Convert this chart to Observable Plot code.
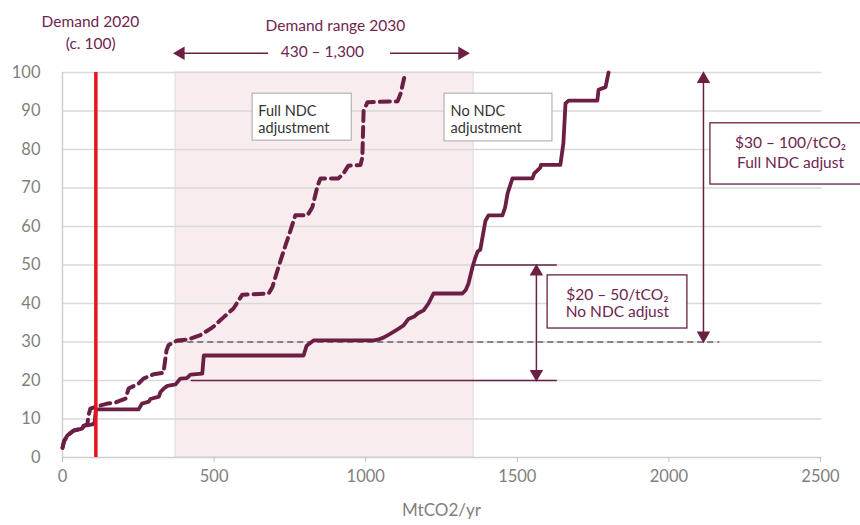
<!DOCTYPE html>
<html>
<head>
<meta charset="utf-8">
<script src="https://cdn.jsdelivr.net/npm/d3@7"></script>
<script src="https://cdn.jsdelivr.net/npm/@observablehq/plot@0.6"></script>
<style>
  html, body { margin: 0; padding: 0; background: #fff; }
  #chart { width: 860px; height: 525px; }
</style>
</head>
<body>
<div id="chart"></div>
<script>
// ---- data ----
const noNdcX = [0,5,16,37,65,70,99,106,110,251,262,285,290,318,323,334,346,373,389,410,422,461,466,795,805,828,1026,1040,1060,1082,1105,1125,1141,1160,1171,1191,1207,1224,1319,1330,1339,1352,1360,1369,1378,1385,1395,1405,1451,1460,1468,1484,1550,1556,1576,1578,1642,1652,1659,1669,1764,1768,1791,1801];
const noNdcY = [2.5,4.2,5.7,7,7.5,8.2,8.6,9,12.5,12.5,14,14.5,15.2,15.8,17,17.9,18.6,19,20.5,20.6,21.5,21.8,26.5,26.5,29,30.4,30.4,30.6,31.2,32.2,33.3,34.3,36,36.6,37.4,38.2,40,42.6,42.6,43.5,45.2,49.4,51.5,53.5,54,57.1,61.5,62.9,62.9,65,68.6,72.5,72.5,73.8,75.3,76,76,81.6,92,92.7,92.7,95.5,96.2,100];

const fullNdcX = [0,5,16,37,65,70,82,86,92,110,148,175,208,218,251,267,300,333,343,350,379,412,455,495,531,564,593,680,692,712,735,752,768,808,824,841,851,910,927,943,983,989,993,1006,1105,1115,1131];
const fullNdcY = [2.5,4.2,5.7,7,7.5,8.2,8.6,11,12.7,13.2,14,14.3,15.3,17.9,19.2,20.5,21.6,22,27.8,29.2,30.4,30.6,31.8,33.8,36.4,38.7,42.3,42.6,44.2,49.4,55,59,62.9,62.9,65,70.5,72.5,72.5,73.8,75.8,76,78,90,92.3,92.5,94.5,100];

const xTicks = [0, 500, 1000, 1500, 2000, 2500];
const yTicks = [0, 10, 20, 30, 40, 50, 60, 70, 80, 90, 100];
const demand2020 = 110;
const demandRange = [373, 1356];
const priceNoNdc = [20, 50];
const priceFullNdc = [30, 100];

const noNdc = noNdcX.map((x, i) => ({x, y: noNdcY[i]}));
const fullNdc = fullNdcX.map((x, i) => ({x, y: fullNdcY[i]}));

const maroon = "#6b1f45";
const txt = "#6e2550";
const gray = "#7f7f7f";

// annotation boxes (data units)
const boxes = [
  {x1: 627, x2: 954, y1: 82.3, y2: 94.5},
  {x1: 1260, x2: 1616, y1: 82.1, y2: 94.5},
  {x1: 2137, x2: 2680, y1: 70.9, y2: 86.8},
  {x1: 1600, x2: 2061, y1: 33.5, y2: 47.3}
];
const boxTextLeft = [
  {x: 646, y: 90.0, t: "Full NDC"},
  {x: 646, y: 85.6, t: "adjustment"},
  {x: 1280, y: 90.0, t: "No NDC"},
  {x: 1280, y: 85.6, t: "adjustment"}
];
const boxTextCenter = [
  {x: 2401, y: 81.6, t: "$30 – 100/tCO₂"},
  {x: 2401, y: 76.4, t: "Full NDC adjust"},
  {x: 1830, y: 42.3, t: "$20 – 50/tCO₂"},
  {x: 1830, y: 37.7, t: "No NDC adjust"}
];
const topText = [
  {x: 92, y: 113, t: "Demand 2020"},
  {x: 93, y: 107.3, t: "(c. 100)"},
  {x: 900, y: 112, t: "Demand range 2030"},
  {x: 857, y: 105.2, t: "430 – 1,300"}
];

const chart = Plot.plot({
  width: 860,
  height: 525,
  marginTop: 72,
  marginBottom: 68,
  marginLeft: 62,
  marginRight: 40,
  style: {fontFamily: "Lato, 'Open Sans', sans-serif", background: "#fff", overflow: "visible"},
  x: {domain: [0, 2500]},
  y: {domain: [0, 100]},
  marks: [
    // shaded demand range
    Plot.rect([demandRange], {x1: d => d[0], x2: d => d[1], y1: 0, y2: 100, fill: "#f8ecee", stroke: "#e2d6d8", strokeWidth: 1}),
    // gridlines
    Plot.ruleY(yTicks.filter(d => d > 0), {stroke: "#d9d9d9", strokeWidth: 1.3, x1: 0, x2: 2505}),
    // axes lines
    Plot.ruleY([0], {stroke: "#cfcfcf", strokeWidth: 1.5, x1: 0, x2: 2505}),
    Plot.ruleX([0], {stroke: "#cfcfcf", strokeWidth: 1.5, y1: 0, y2: 100}),
    Plot.axisY({ticks: yTicks, tickSize: 0, tickPadding: 22, fontSize: 16.5, color: gray, label: null}),
    Plot.axisX({ticks: xTicks, tickFormat: d => String(d), tickSize: 5, tickPadding: 8, fontSize: 16.5, color: gray, stroke: "#bfbfbf", label: null}),
    Plot.text(["MtCO2/yr"], {frameAnchor: "bottom", dy: 58, fontSize: 17, fill: gray}),
    // dashed reference at $30
    Plot.ruleY([priceFullNdc[0]], {x1: 380, x2: 2168, stroke: "#3a1a2c", strokeWidth: 1.2, strokeDasharray: "6,4"}),
    // lines at $20 and $50
    Plot.ruleY([priceNoNdc[1]], {x1: 1356, x2: 1632, stroke: maroon, strokeWidth: 1.4}),
    Plot.ruleY([priceNoNdc[0]], {x1: 425, x2: 1632, stroke: maroon, strokeWidth: 1.4}),
    // curves
    Plot.line(fullNdc, {x: "x", y: "y", stroke: maroon, strokeWidth: 4, strokeDasharray: "10,6"}),
    Plot.line(noNdc, {x: "x", y: "y", stroke: maroon, strokeWidth: 3.8, strokeLinejoin: "round"}),
    // demand 2020
    Plot.ruleX([demand2020], {y1: 0, y2: 100, stroke: "#e8141b", strokeWidth: 3.5}),
    // vertical double arrows
    Plot.ruleX([1563], {y1: 21.5, y2: 48.5, stroke: maroon, strokeWidth: 1.5}),
    Plot.ruleX([2114], {y1: 31.5, y2: 98.5, stroke: maroon, strokeWidth: 1.5}),
    Plot.dot([{x: 1563, y: 48.3}, {x: 2114, y: 98.3}], {x: "x", y: "y", symbol: "triangle", r: 5, fill: maroon, stroke: null}),
    Plot.dot([{x: 1563, y: 21.7}, {x: 2114, y: 31.7}], {x: "x", y: "y", symbol: "triangle", r: 5, rotate: 180, fill: maroon, stroke: null}),
    // demand range horizontal arrows (above the frame)
    Plot.ruleY([105], {x1: 400, x2: 680, stroke: maroon, strokeWidth: 1.5}),
    Plot.ruleY([105], {x1: 1082, x2: 1310, stroke: maroon, strokeWidth: 1.5}),
    Plot.dot([{x: 390, y: 105}], {x: "x", y: "y", symbol: "triangle", r: 5, rotate: -90, fill: maroon, stroke: null}),
    Plot.dot([{x: 1318, y: 105}], {x: "x", y: "y", symbol: "triangle", r: 5, rotate: 90, fill: maroon, stroke: null}),
    // boxes
    Plot.rect(boxes.slice(0, 2), {x1: "x1", x2: "x2", y1: "y1", y2: "y2", fill: "#fff", stroke: "#a6a6a6", strokeWidth: 1}),
    Plot.rect(boxes.slice(2), {x1: "x1", x2: "x2", y1: "y1", y2: "y2", fill: "#fff", stroke: maroon, strokeWidth: 1.3}),
    Plot.text(boxTextLeft, {x: "x", y: "y", text: "t", textAnchor: "start", fontSize: 14.5, fill: "#333"}),
    Plot.text(boxTextCenter, {x: "x", y: "y", text: "t", fontSize: 15.5, fill: txt}),
    Plot.text(topText, {x: "x", y: "y", text: "t", fontSize: 15.5, fill: txt})
  ]
});
document.getElementById("chart").appendChild(chart);
</script>
</body>
</html>
